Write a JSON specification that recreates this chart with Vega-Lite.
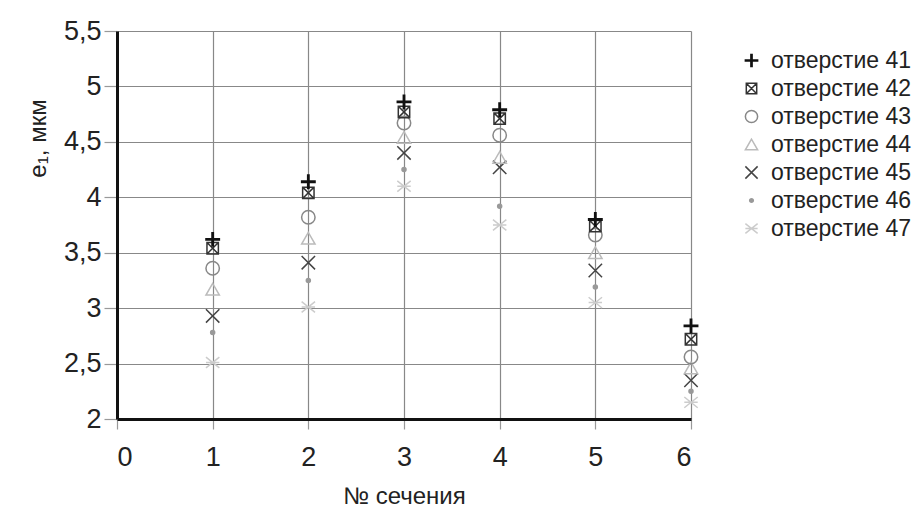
{
  "$schema": "https://vega.github.io/schema/vega-lite/v6.json",
  "autosize": {"type": "none"},
  "padding": {"left": 117, "top": 31, "right": 232, "bottom": 100},
  "width": 574,
  "height": 388,
  "background": "white",
  "config": {
    "view": {"stroke": null},
    "font": "Liberation Sans, sans-serif"
  },
  "data": {
    "values": [
      {"s": 1, "h": "отверстие 47", "v": 2.51}, {"s": 2, "h": "отверстие 47", "v": 3.01}, {"s": 3, "h": "отверстие 47", "v": 4.10}, {"s": 4, "h": "отверстие 47", "v": 3.75}, {"s": 5, "h": "отверстие 47", "v": 3.05}, {"s": 6, "h": "отверстие 47", "v": 2.15},
      {"s": 1, "h": "отверстие 46", "v": 2.78}, {"s": 2, "h": "отверстие 46", "v": 3.25}, {"s": 3, "h": "отверстие 46", "v": 4.25}, {"s": 4, "h": "отверстие 46", "v": 3.92}, {"s": 5, "h": "отверстие 46", "v": 3.19}, {"s": 6, "h": "отверстие 46", "v": 2.25},
      {"s": 1, "h": "отверстие 45", "v": 2.93}, {"s": 2, "h": "отверстие 45", "v": 3.41}, {"s": 3, "h": "отверстие 45", "v": 4.40}, {"s": 4, "h": "отверстие 45", "v": 4.27}, {"s": 5, "h": "отверстие 45", "v": 3.34}, {"s": 6, "h": "отверстие 45", "v": 2.35},
      {"s": 1, "h": "отверстие 44", "v": 3.17}, {"s": 2, "h": "отверстие 44", "v": 3.63}, {"s": 3, "h": "отверстие 44", "v": 4.54}, {"s": 4, "h": "отверстие 44", "v": 4.36}, {"s": 5, "h": "отверстие 44", "v": 3.50}, {"s": 6, "h": "отверстие 44", "v": 2.46},
      {"s": 1, "h": "отверстие 43", "v": 3.36}, {"s": 2, "h": "отверстие 43", "v": 3.82}, {"s": 3, "h": "отверстие 43", "v": 4.67}, {"s": 4, "h": "отверстие 43", "v": 4.56}, {"s": 5, "h": "отверстие 43", "v": 3.66}, {"s": 6, "h": "отверстие 43", "v": 2.56},
      {"s": 1, "h": "отверстие 42", "v": 3.54}, {"s": 2, "h": "отверстие 42", "v": 4.04}, {"s": 3, "h": "отверстие 42", "v": 4.77}, {"s": 4, "h": "отверстие 42", "v": 4.71}, {"s": 5, "h": "отверстие 42", "v": 3.74}, {"s": 6, "h": "отверстие 42", "v": 2.72},
      {"s": 1, "h": "отверстие 41", "v": 3.62}, {"s": 2, "h": "отверстие 41", "v": 4.14}, {"s": 3, "h": "отверстие 41", "v": 4.86}, {"s": 4, "h": "отверстие 41", "v": 4.79}, {"s": 5, "h": "отверстие 41", "v": 3.80}, {"s": 6, "h": "отверстие 41", "v": 2.84}
    ]
  },
  "mark": {"type": "point", "filled": false, "size": 180, "strokeWidth": 1.5, "opacity": 1},
  "encoding": {
    "x": {
      "field": "s", "type": "quantitative",
      "scale": {"domain": [0, 6], "nice": false, "zero": false},
      "axis": {
        "values": [0, 1, 2, 3, 4, 5, 6],
        "title": "№ сечения",
        "titleFontSize": 24, "titleFontWeight": "normal", "titleColor": "#222",
        "titleY": 77, "titleBaseline": "middle",
        "labelFontSize": 27, "labelColor": "#222", "labelPadding": 15,
        "tickSize": 10, "tickColor": "#999", "tickWidth": 1.2,
        "domainColor": "#111", "domainWidth": 3,
        "grid": true, "gridColor": "#888", "gridWidth": 1.2
      }
    },
    "y": {
      "field": "v", "type": "quantitative",
      "scale": {"domain": [2, 5.5], "nice": false, "zero": false},
      "axis": {
        "values": [2, 2.5, 3, 3.5, 4, 4.5, 5, 5.5],
        "labelExpr": "replace(format(datum.value, '~g'), '.', ',')",
        "title": "e₁, мкм",
        "titleFontSize": 24, "titleFontWeight": "normal", "titleColor": "#222",
        "titleX": -79, "titleY": 107, "titleAngle": -90, "titleAlign": "center", "titleBaseline": "middle",
        "labelFontSize": 27, "labelColor": "#222", "labelPadding": 3,
        "tickSize": 13, "tickColor": "#999", "tickWidth": 1.2,
        "domainColor": "#111", "domainWidth": 3,
        "grid": true, "gridColor": "#888", "gridWidth": 1.2
      }
    },
    "color": {
      "field": "h", "type": "nominal",
      "scale": {
        "domain": ["отверстие 41", "отверстие 42", "отверстие 43", "отверстие 44", "отверстие 45", "отверстие 46", "отверстие 47"],
        "range": ["#111111", "#333333", "#888888", "#bbbbbb", "#444444", "#999999", "#cccccc"]
      },
      "legend": {
        "title": null, "orient": "none", "legendX": 623, "legendY": 18,
        "padding": 0, "rowPadding": 4, "labelOffset": 8,
        "labelFontSize": 23, "labelColor": "#222", "labelLimit": 300,
        "symbolSize": 150, "symbolStrokeWidth": 1.5
      }
    },
    "shape": {
      "field": "h", "type": "nominal",
      "scale": {
        "domain": ["отверстие 41", "отверстие 42", "отверстие 43", "отверстие 44", "отверстие 45", "отверстие 46", "отверстие 47"],
        "range": [
          "M-1,-0.1H-0.1V-1H0.1V-0.1H1V0.1H0.1V1H-0.1V0.1H-1Z",
          "M-0.85,-0.85H0.85V0.85H-0.85ZM-0.85,-0.85L0.85,0.85M0.85,-0.85L-0.85,0.85",
          "circle",
          "triangle-up",
          "M-1,-1L1,1M1,-1L-1,1",
          "M-0.3,0A0.3,0.3 0 1,0 0.3,0A0.3,0.3 0 1,0 -0.3,0ZM-0.12,0A0.12,0.12 0 1,0 0.12,0A0.12,0.12 0 1,0 -0.12,0Z",
          "M-1,-0.8L1,0.8M1,-0.8L-1,0.8M-1,0H1"
        ]
      },
      "legend": {
        "title": null, "orient": "none", "legendX": 623, "legendY": 18,
        "padding": 0, "rowPadding": 4, "labelOffset": 8,
        "labelFontSize": 23, "labelColor": "#222", "labelLimit": 300,
        "symbolSize": 150, "symbolStrokeWidth": 1.5
      }
    }
  }
}
